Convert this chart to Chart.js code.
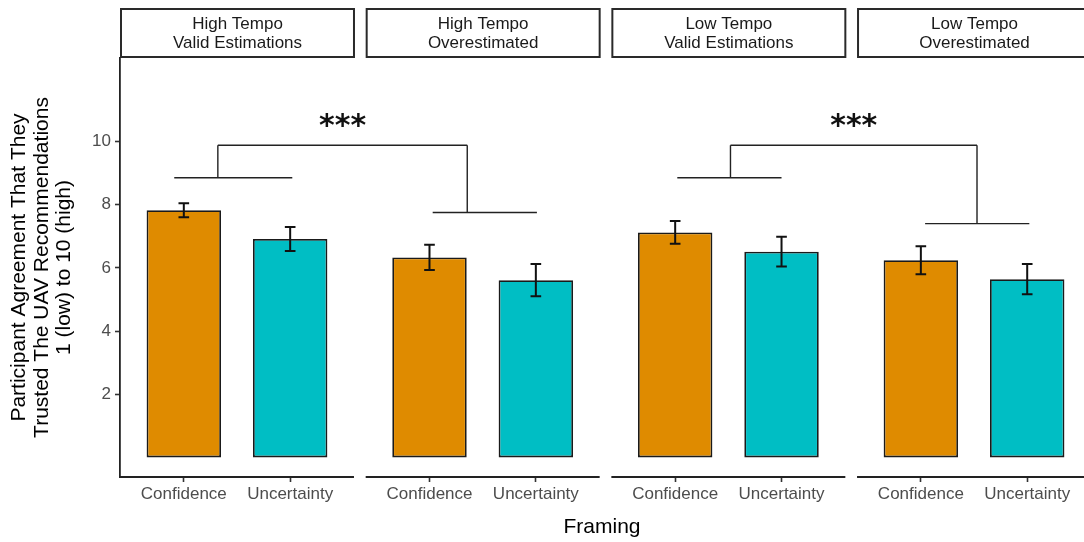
<!DOCTYPE html>
<html>
<head>
<meta charset="utf-8">
<script src="https://cdn.jsdelivr.net/npm/chart.js@4/dist/chart.umd.min.js"></script>
<style>
  html, body { margin: 0; padding: 0; background: #fff; overflow: hidden; }
  #wrap { width: 1084px; height: 542px; position: relative; }
</style>
</head>
<body>
<div id="wrap"><canvas id="chart"></canvas></div>
<script>
// Facet titles (two lines each)
const panelTitles = [
  ['High Tempo', 'Valid Estimations'],
  ['High Tempo', 'Overestimated'],
  ['Low Tempo', 'Valid Estimations'],
  ['Low Tempo', 'Overestimated']
];
const framing = ['Confidence', 'Uncertainty'];

// Mean agreement and standard error per facet
const confidenceMean = [7.82, 6.33, 7.12, 6.24];
const confidenceSE   = [0.22, 0.40, 0.36, 0.44];
const uncertaintyMean = [6.91, 5.61, 6.51, 5.64];
const uncertaintySE   = [0.38, 0.51, 0.47, 0.48];

const yTicks = [2, 4, 6, 8, 10];

// Significance brackets between facet pairs
const bracketLabel = '***';
const bracketPanels = [[0, 1], [2, 3]];
const bracketTop = [9.88, 9.88];
const bracketLabelLevel = [10.67, 10.67];
const bracketArmLevel = [[8.85, 7.75], [8.85, 7.40]];
const bracketArmSpan = [[[0.51, 1.62], [0.63, 1.61]], [[0.62, 1.60], [0.64, 1.62]]];
const bracketStem = [[0.92, 0.955], [1.12, 1.128]];

// Facet layout in x units: two categories per facet, small gap between facets
const PANEL_W = 2.2, PANEL_GAP = 0.11;
const panelStart = p => p * (PANEL_W + PANEL_GAP);
const confX = confidenceMean.map((_, p) => panelStart(p) + 0.6);
const uncX = uncertaintyMean.map((_, p) => panelStart(p) + 1.6);

const FONT = '"Liberation Sans", Arial, sans-serif';
const INK = '#1a1a1a';

const facetPlugin = {
  id: 'facets',
  afterDraw(chart) {
    const { ctx, chartArea } = chart;
    const xs = chart.scales.x, ys = chart.scales.y;
    ctx.save();
    // strips
    panelTitles.forEach((t, p) => {
      const x0 = xs.getPixelForValue(panelStart(p));
      const x1 = xs.getPixelForValue(panelStart(p) + PANEL_W);
      const y1 = chartArea.top - 1, y0 = 9;
      ctx.fillStyle = '#fff';
      ctx.fillRect(x0 + 1, y0, x1 - x0 - 1, y1 - y0);
      ctx.strokeStyle = '#2a2a2a';
      ctx.lineWidth = 2;
      ctx.strokeRect(x0 + 1, y0, x1 - x0 - 1, y1 - y0);
      ctx.fillStyle = INK;
      ctx.font = '17px ' + FONT;
      ctx.textAlign = 'center';
      ctx.textBaseline = 'middle';
      const cx = (x0 + x1) / 2 + 0.5;
      ctx.fillText(t[0], cx, y0 + 15.5);
      ctx.fillText(t[1], cx, y0 + 34);
    });
    // per-facet x axis lines
    ctx.strokeStyle = '#222';
    ctx.lineWidth = 1.8;
    panelTitles.forEach((_, p) => {
      const x0 = xs.getPixelForValue(panelStart(p));
      const x1 = xs.getPixelForValue(panelStart(p) + PANEL_W);
      ctx.beginPath();
      ctx.moveTo(x0, chartArea.bottom);
      ctx.lineTo(x1, chartArea.bottom);
      ctx.stroke();
    });
    // error bars
    ctx.strokeStyle = '#111';
    ctx.lineWidth = 2;
    chart.data.datasets.forEach((ds, di) => {
      const meta = chart.getDatasetMeta(di);
      meta.data.forEach((bar, i) => {
        const m = ds.data[i].y, se = ds.se[i];
        const cx = bar.x;
        const half = xs.getPixelForValue(ds.data[i].x + 0.05) - cx;
        const yt = ys.getPixelForValue(m + se), yb = ys.getPixelForValue(m - se);
        ctx.beginPath();
        ctx.moveTo(cx, yt); ctx.lineTo(cx, yb);
        ctx.moveTo(cx - half, yt); ctx.lineTo(cx + half, yt);
        ctx.moveTo(cx - half, yb); ctx.lineTo(cx + half, yb);
        ctx.stroke();
      });
    });
    // significance brackets
    ctx.strokeStyle = '#222';
    ctx.lineWidth = 1.4;
    bracketPanels.forEach((pair, b) => {
      const px = (p, u) => xs.getPixelForValue(panelStart(p) + u);
      const yTop = ys.getPixelForValue(bracketTop[b]);
      const stems = pair.map((p, k) => px(p, bracketStem[b][k]));
      ctx.beginPath();
      pair.forEach((p, k) => {
        const ya = ys.getPixelForValue(bracketArmLevel[b][k]);
        ctx.moveTo(px(p, bracketArmSpan[b][k][0]), ya);
        ctx.lineTo(px(p, bracketArmSpan[b][k][1]), ya);
        ctx.moveTo(stems[k], ya);
        ctx.lineTo(stems[k], yTop);
      });
      ctx.moveTo(stems[0], yTop);
      ctx.lineTo(stems[1], yTop);
      ctx.stroke();
      ctx.fillStyle = '#111';
      ctx.font = 'bold 30px "DejaVu Sans", sans-serif';
      ctx.textAlign = 'center';
      ctx.textBaseline = 'middle';
      ctx.fillText(bracketLabel, (stems[0] + stems[1]) / 2, ys.getPixelForValue(bracketLabelLevel[b]) + 7);
    });
    ctx.restore();
  }
};

const barStyle = {
  borderColor: INK,
  borderWidth: 1.8,
  borderSkipped: false,
  grouped: false,
  barPercentage: 0.7,
  categoryPercentage: 1
};

new Chart(document.getElementById('chart'), {
  type: 'bar',
  data: {
    datasets: [
      Object.assign({
        label: framing[0],
        data: confX.map((x, i) => ({ x, y: confidenceMean[i] })),
        backgroundColor: '#DF8B00',
        se: confidenceSE
      }, barStyle),
      Object.assign({
        label: framing[1],
        data: uncX.map((x, i) => ({ x, y: uncertaintyMean[i] })),
        backgroundColor: '#00BEC4',
        se: uncertaintySE
      }, barStyle)
    ]
  },
  options: {
    responsive: true,
    maintainAspectRatio: false,
    animation: false,
    layout: { padding: { top: 58, left: 0, right: 0, bottom: 0 } },
    plugins: { legend: { display: false }, tooltip: { enabled: false } },
    scales: {
      x: {
        type: 'linear',
        min: 0,
        max: 9.064,
        offset: false,
        border: { display: false },
        grid: { offset: false, drawOnChartArea: false, drawTicks: true, tickLength: 5, tickColor: '#333', tickWidth: 1.6 },
        afterBuildTicks(scale) {
          scale.ticks = [...confX, ...uncX].sort((a, b) => a - b).map(v => ({ value: v }));
        },
        ticks: {
          autoSkip: false,
          maxRotation: 0,
          padding: 2,
          color: '#4d4d4d',
          font: { family: FONT, size: 17 },
          callback: (v, i) => framing[i % 2]
        },
        title: {
          display: true,
          text: 'Framing',
          color: '#000',
          font: { family: FONT, size: 21, lineHeight: 1.2 },
          padding: { top: 0, bottom: 2 }
        },
        afterFit(scale) { scale.height = 65; }
      },
      y: {
        type: 'linear',
        min: -0.62,
        max: 12.64,
        border: { display: true, color: '#222', width: 1.8 },
        grid: { drawOnChartArea: false, drawTicks: true, tickLength: 5, tickColor: '#333', tickWidth: 1.6 },
        afterBuildTicks(scale) {
          scale.ticks = yTicks.map(v => ({ value: v }));
        },
        ticks: {
          padding: 4,
          color: '#4d4d4d',
          font: { family: FONT, size: 17 }
        },
        title: {
          display: true,
          text: ['Participant Agreement That They', 'Trusted The UAV Recommendations', '1 (low) to 10 (high)'],
          color: '#000',
          font: { family: FONT, size: 21, lineHeight: 1.07 },
          padding: { top: 8, bottom: 0 }
        },
        afterFit(scale) { scale.width = 120; }
      }
    }
  },
  plugins: [facetPlugin]
});
</script>
</body>
</html>
